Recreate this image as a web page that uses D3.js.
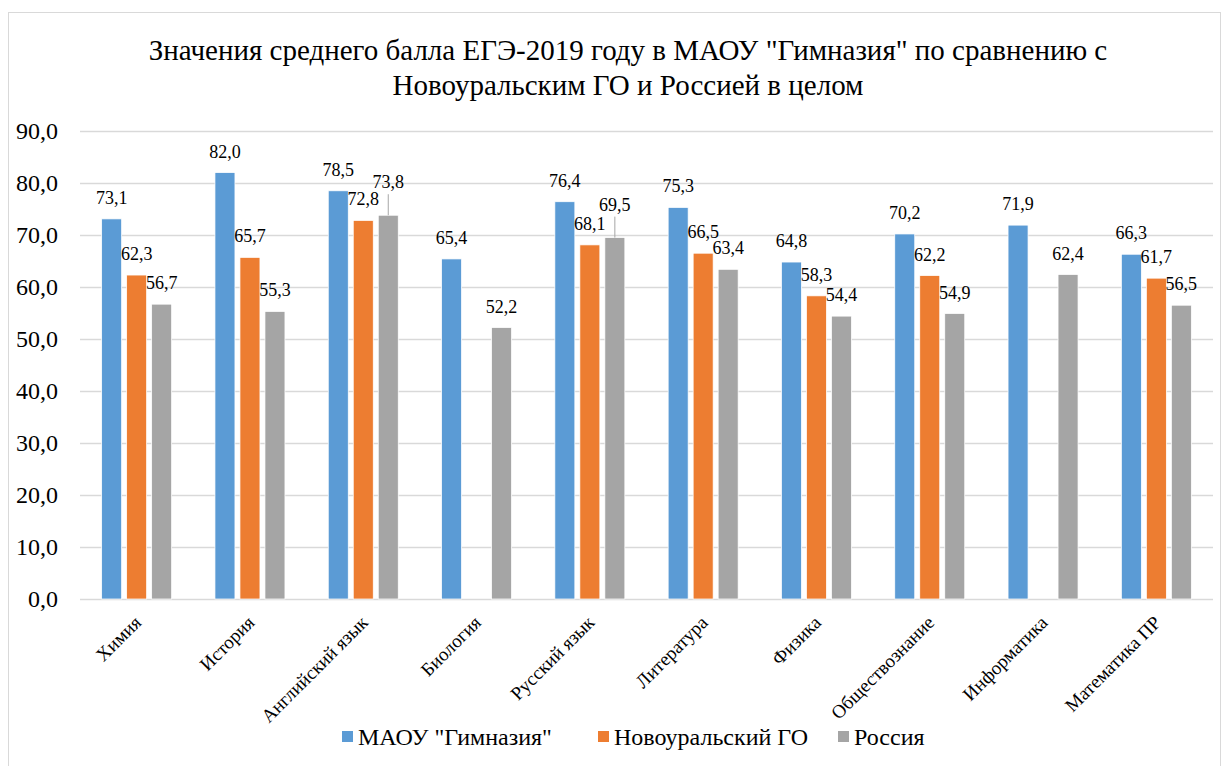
<!DOCTYPE html>
<html>
<head>
<meta charset="utf-8">
<script src="https://cdn.jsdelivr.net/npm/d3@7"></script>
<style>
  body { margin: 0; background: #fff; }
  svg text { font-family: "Liberation Serif", "Times New Roman", serif; fill: #000; }
</style>
</head>
<body>
<svg id="chart" width="1231" height="766"></svg>
<script>
// data
var categories = ["Химия", "История", "Английский язык", "Биология", "Русский язык",
    "Литература", "Физика", "Обществознание", "Информатика", "Математика ПР"];
var seriesNames = ["МАОУ \"Гимназия\"", "Новоуральский ГО", "Россия"];
var gymnasium = [73.1, 82.0, 78.5, 65.4, 76.4, 75.3, 64.8, 70.2, 71.9, 66.3];
var novouralsk = [62.3, 65.7, 72.8, null, 68.1, 66.5, 58.3, 62.2, null, 61.7];
var russia = [56.7, 55.3, 73.8, 52.2, 69.5, 63.4, 54.4, 54.9, 62.4, 56.5];
var yTicks = [0, 10, 20, 30, 40, 50, 60, 70, 80, 90];

// labels that Excel pushed up with a leader line (series index, category index)
var raisedLabels = [[2, 2], [2, 4]];

var colors = ["#5b9bd5", "#ed7d31", "#a5a5a5"];
var series = [gymnasium, novouralsk, russia];

var svg = d3.select("#chart"),
    width = +svg.attr("width"),
    height = +svg.attr("height");

var margin = {top: 131, right: 18, bottom: 167, left: 80};

// chart frame
svg.append("rect")
    .attr("x", 8.5).attr("y", 12.5)
    .attr("width", 1212).attr("height", 760)
    .attr("fill", "none")
    .attr("stroke", "#d9d9d9");

// title
var title = svg.append("text")
    .attr("text-anchor", "middle")
    .style("font-size", "29px");
title.append("tspan").attr("x", 628).attr("y", 60)
    .text("Значения среднего балла ЕГЭ-2019 году в МАОУ \"Гимназия\" по сравнению с");
title.append("tspan").attr("x", 628).attr("y", 95)
    .text("Новоуральским ГО и Россией в целом");

var x0 = d3.scaleBand()
    .domain(categories)
    .range([margin.left, width - margin.right])
    .paddingInner(0)
    .paddingOuter(0);

var y = d3.scaleLinear()
    .domain([0, 90])
    .range([height - margin.bottom, margin.top]);

var barW = 20, barStep = 25;

function fmt(v) { return d3.format(".1f")(v).replace(".", ","); }
function isRaised(s, i) {
    return raisedLabels.some(function(r) { return r[0] === s && r[1] === i; });
}

// grid
svg.append("g")
    .selectAll("line")
    .data(yTicks)
    .enter().append("line")
    .attr("x1", margin.left).attr("x2", width - margin.right)
    .attr("y1", function(d) { return Math.round(y(d)) + 0.5; })
    .attr("y2", function(d) { return Math.round(y(d)) + 0.5; })
    .attr("stroke", "#d9d9d9")
    .attr("stroke-width", 1.5);

// y tick labels
svg.append("g")
    .selectAll("text")
    .data(yTicks)
    .enter().append("text")
    .attr("x", 58)
    .attr("y", function(d) { return y(d); })
    .attr("dy", "0.35em")
    .attr("text-anchor", "end")
    .style("font-size", "24px")
    .text(function(d) { return fmt(d); });

// bars
series.forEach(function(values, s) {
    var g = svg.append("g");
    var pts = values.map(function(v, i) { return {v: v, i: i}; })
        .filter(function(d) { return d.v !== null; });
    var cx = function(d) { return x0(categories[d.i]) + x0.bandwidth() / 2 - barStep + s * barStep; };

    g.selectAll("rect")
        .data(pts)
        .enter().append("rect")
        .attr("x", function(d) { return cx(d) - barW / 2; })
        .attr("y", function(d) { return y(d.v); })
        .attr("width", barW)
        .attr("height", function(d) { return y(0) - y(d.v); })
        .attr("fill", colors[s])
        .attr("stroke", "#fff")
        .attr("stroke-width", 0.75);

    // leader lines
    g.selectAll("line")
        .data(pts.filter(function(d) { return isRaised(s, d.i); }))
        .enter().append("line")
        .attr("x1", cx).attr("x2", cx)
        .attr("y1", function(d) { return y(d.v) - 21; })
        .attr("y2", function(d) { return y(d.v); })
        .attr("stroke", "#a6a6a6")
        .attr("stroke-width", 1);

    g.selectAll("text")
        .data(pts)
        .enter().append("text")
        .attr("x", cx)
        .attr("y", function(d) { return y(d.v) - (isRaised(s, d.i) ? 27 : 15); })
        .attr("text-anchor", "middle")
        .style("font-size", "18px")
        .text(function(d) { return fmt(d.v); });
});

// category labels
svg.append("g")
    .selectAll("text")
    .data(categories)
    .enter().append("text")
    .attr("transform", function(d) {
        return "translate(" + (x0(d) + x0.bandwidth() / 2 + 1) + "," + (y(0) + 20) + ") rotate(-45)";
    })
    .attr("text-anchor", "end")
    .attr("dy", "0.35em")
    .style("font-size", "19px")
    .text(function(d) { return d; });

// legend
var legendX = [342, 598, 838];
var legend = svg.append("g")
    .selectAll("g")
    .data(seriesNames)
    .enter().append("g")
    .attr("transform", function(d, i) { return "translate(" + legendX[i] + ",737)"; });
legend.append("rect")
    .attr("x", 0).attr("y", -6)
    .attr("width", 11).attr("height", 11)
    .attr("fill", function(d, i) { return colors[i]; });
legend.append("text")
    .attr("x", 16)
    .attr("dy", "0.35em")
    .style("font-size", "24px")
    .text(function(d) { return d; });
</script>
</body>
</html>
